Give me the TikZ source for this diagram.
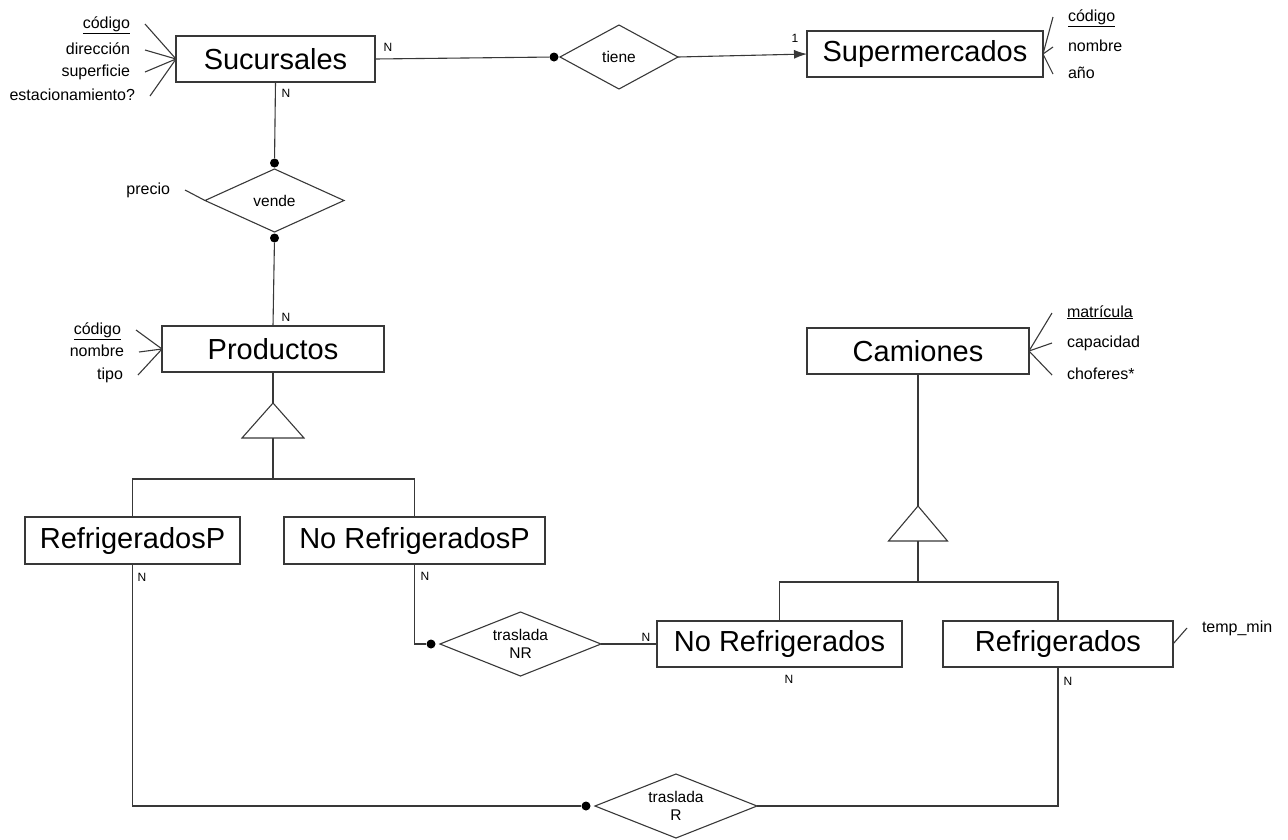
\documentclass[tikz,border=0pt]{standalone}
\usepackage{fontspec}
\setmainfont{Liberation Sans}
\usetikzlibrary{arrows.meta,positioning,shapes.geometric,calc}
\definecolor{cInk}{HTML}{383838}
\tikzset{
  ln/.style  ={line width=1.1pt,draw=cInk},
  ent/.style ={ln,rectangle,minimum height=46pt,inner sep=0pt,outer sep=0pt,
               font=\fontsize{29}{31}\selectfont},
  rel/.style ={ln,diamond,aspect=2.5,inner sep=0pt,outer sep=0pt,align=center,
               font=\fontsize{15.5}{18}\selectfont},
  attr/.style={inner sep=0pt,outer xsep=15pt,text height=11pt,text depth=3pt,
               font=\fontsize{16}{18}\selectfont},
  card/.style={inner sep=0pt,font=\fontsize{12}{13}\selectfont},
  dot/.style ={circle,fill=black,inner sep=0pt,minimum size=9pt},
}

\begin{document}
\begin{tikzpicture}[x=1pt,y=-1pt]
\useasboundingbox (0,0) rectangle (1288,839);

% entidades
\node[ent,minimum width=199pt] (suc)    at (275.5,59)  {Sucursales};
\node[ent,minimum width=236pt] (sup)    at (925,54)    {Supermercados};
\node[ent,minimum width=222pt] (prod)   at (273,349)   {Productos};
\node[ent,minimum width=222pt] (cam)    at (918,351)   {Camiones};
\node[ent,minimum width=215pt,minimum height=47pt] (refp)   at (132.5,540.5) {RefrigeradosP};
\node[ent,minimum width=261pt,minimum height=47pt] (norefp) at (414.5,540.5) {No RefrigeradosP};
\node[ent,minimum width=245pt] (noref)  at (779.5,644)  {No Refrigerados};
\node[ent,minimum width=230pt] (ref)    at (1058,644)   {Refrigerados};

% relaciones
\node[rel,minimum width=118pt,minimum height=64pt] (tiene) at (619,57)      {tiene};
\node[rel,minimum width=139pt,minimum height=63pt] (vende) at (274.5,200.5) {vende};
\node[rel,minimum width=161pt,minimum height=64pt] (trnr)  at (520.5,644)   {traslada\\NR};
\node[rel,minimum width=162pt,minimum height=64pt] (trr)   at (676,806)     {traslada\\R};

\node[dot] (dtiene) at ([xshift=-6pt]tiene.west) {};
\node[dot] (dvenA)  at ([yshift=6pt]vende.north) {};
\node[dot] (dvenB)  at ([yshift=-6pt]vende.south) {};
\node[dot] (dtrnr)  at ([xshift=-9pt]trnr.west) {};
\node[dot] (dtrr)   at ([xshift=-9pt]trr.west) {};

% atributos
\node[attr,anchor=east] (sa1) at (145,24) {\underline{código}};
\node[attr,anchor=east] (sa2) at (145,50) {dirección};
\node[attr,anchor=east] (sa3) at (145,72) {superficie};
\node[attr,anchor=east] (sa4) at (150,96) {estacionamiento?};
\foreach \a in {sa1,sa2,sa3,sa4} \draw[ln] (\a.east) -- (suc.west);

\node[attr,anchor=west] (pa1) at (1053,17) {\underline{código}};
\node[attr,anchor=west] (pa2) at (1053,47) {nombre};
\node[attr,anchor=west] (pa3) at (1053,74) {año};
\foreach \a in {pa1,pa2,pa3} \draw[ln] (\a.west) -- (sup.east);

\node[attr,anchor=east] (ra1) at (136,330) {\underline{código}};
\node[attr,anchor=east] (ra2) at (139,352) {nombre};
\node[attr,anchor=east] (ra3) at (138,375) {tipo};
\foreach \a in {ra1,ra2,ra3} \draw[ln] (\a.east) -- (prod.west);

\node[attr,anchor=east] (va1) at (185,190) {precio};
\draw[ln] (va1.east) -- (vende.west);

\node[attr,anchor=west] (ca1) at (1052,313) {\underline{matrícula}};
\node[attr,anchor=west] (ca2) at (1052,343) {capacidad};
\node[attr,anchor=west] (ca3) at (1052,375) {choferes*};
\foreach \a in {ca1,ca2,ca3} \draw[ln] (\a.west) -- (cam.east);

\node[attr,anchor=west] (fa1) at (1187,628) {temp\_min};
\draw[ln] (fa1.west) -- (ref.east);

% relaciones: lineas
\draw[ln] (suc.east) -- (dtiene);
\draw[ln,-{Latex[length=13pt,width=9pt]}] (tiene.east) -- (sup.west);
\draw[ln] (suc.south) -- (dvenA);
\draw[ln] (dvenB) -- (prod.north);
\draw[ln] (norefp.south) |- (dtrnr);
\draw[ln] (trnr.east) -- (noref.west);
\draw[ln] (refp.south) |- (dtrr);
\draw[ln] (trr.east) -| (ref.south);

% jerarquias
\coordinate (isap)  at (273,403);
\coordinate (isapb) at (273,438);
\draw[ln] (isap) -- ++(-31,35) -- ++(62,0) -- cycle;
\draw[ln] (prod.south) -- (isap);
\draw[ln] (isapb) -- ++(0,41) coordinate (isapj);
\draw[ln] (refp.north) |- (isapj) -| (norefp.north);

\coordinate (isac)  at (918,506);
\coordinate (isacb) at (918,541);
\draw[ln] (isac) -- ++(-29.5,35) -- ++(59,0) -- cycle;
\draw[ln] (cam.south) -- (isac);
\draw[ln] (isacb) -- ++(0,41) coordinate (isacj);
\draw[ln] (noref.north) |- (isacj) -| (ref.north);

% cardinalidades
\node[card] (c1) at (388,47)  {N};
\node[card] (c2) at (286,93)  {N};
\node[card] (c3) at (795,38)  {1};
\node[card] (c4) at (286,317) {N};
\node[card] (c5) at (142,577) {N};
\node[card] (c6) at (425,576) {N};
\node[card] (c7) at (646,637) {N};
\node[card] (c8) at (789,679) {N};
\node[card] (c9) at (1068,681) {N};
\end{tikzpicture}
\end{document}
